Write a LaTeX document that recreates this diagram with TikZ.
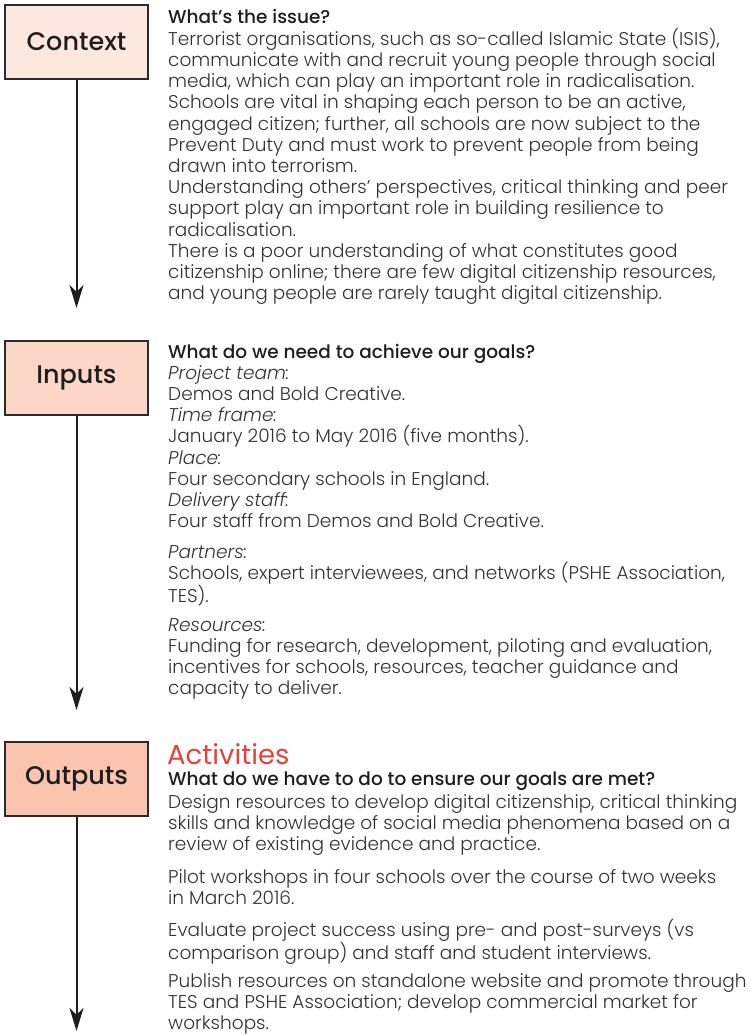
\documentclass[tikz,border=0pt]{standalone}
\usepackage{fontspec}
\setmainfont{Poppins}[UprightFont={* Light},ItalicFont={* Light Italic},BoldFont={* Medium}]
\newfontfamily\labelfont{Poppins Medium}
\newfontfamily\actfont{Poppins}
\usetikzlibrary{arrows.meta}
\definecolor{ctxfill}{HTML}{FDE8E0}
\definecolor{inpfill}{HTML}{FCD6C6}
\definecolor{outfill}{HTML}{FAC4AF}
\definecolor{boxline}{HTML}{2B2B2B}
\definecolor{bodytext}{HTML}{333333}
\definecolor{headtext}{HTML}{1E1E1E}
\definecolor{actred}{HTML}{E8413A}
\newcommand{\para}[1]{\parbox[t]{600pt}{\raggedright #1}}
\begin{document}
\begin{tikzpicture}[x=1pt,y=-1pt,
  stagebox/.style={draw=boxline,line width=1.1pt,minimum width=143pt,minimum height=74pt,inner sep=0pt,
     font=\labelfont\fontsize{25.5}{30}\selectfont,text=headtext},
  flow/.style={draw=headtext,line width=2pt,-{Stealth[length=23pt,width=14pt,inset=7pt]}},
  body/.style={anchor=base west,inner sep=0pt,text=bodytext,
     font=\fontsize{18.5}{21.2}\selectfont},
  head/.style={body,text=headtext,font=\bfseries\fontsize{18.5}{21.2}\selectfont}]
\useasboundingbox (0,0) rectangle (751,1035);
% stage boxes
\node[stagebox,fill=ctxfill] (ctx) at (76.5,42) {Context};
\node[stagebox,fill=inpfill] (inp) at (76.5,378) {Inputs};
\node[stagebox,fill=outfill] (out) at (76.5,779) {Outputs};
\coordinate (ctxend) at (76.5,308);
\coordinate (inpend) at (76.5,710);
\coordinate (outend) at (76.5,1031);
\draw[flow] (ctx.south) -- (ctxend);
\draw[flow] (inp.south) -- (inpend);
\draw[flow] (out.south) -- (outend);
% Context text
\node[head] (ctxh) at (168,24) {What’s the issue?};
\node[body] (ctxb) at (168,45.3) {\para{Terrorist organisations, such as so-called Islamic State (ISIS),\\
communicate with and recruit young people through social\\
media, which can play an important role in radicalisation.\\
Schools are vital in shaping each person to be an active,\\
engaged citizen; further, all schools are now subject to the\\
Prevent Duty and must work to prevent people from being\\
drawn into terrorism.\\
Understanding others’ perspectives, critical thinking and peer\\
support play an important role in building resilience to\\
radicalisation.\\
There is a poor understanding of what constitutes good\\
citizenship online; there are few digital citizenship resources,\\
and young people are rarely taught digital citizenship.}};
% Inputs text
\node[head] (inph) at (168,358) {What do we need to achieve our goals?};
\node[body] (inpa) at (168,379.3) {\para{\textit{Project team:}\\
Demos and Bold Creative.\\
\textit{Time frame:}\\
January 2016 to May 2016 (five months).\\
\textit{Place:}\\
Four secondary schools in England.\\
\textit{Delivery staff:}\\
Four staff from Demos and Bold Creative.}};
\node[body] (inpb) at (168,558.5) {\para{\textit{Partners:}\\
Schools, expert interviewees, and networks (PSHE Association,\\
TES).}};
\node[body] (inpc) at (168,631) {\para{\textit{Resources:}\\
Funding for research, development, piloting and evaluation,\\
incentives for schools, resources, teacher guidance and\\
capacity to deliver.}};
% Outputs text
\node[anchor=base west,inner sep=0pt,text=actred,font=\actfont\fontsize{27.5}{30}\selectfont] (acth) at (167,764.5) {Activities};
\node[head] (outh) at (168,785) {What do we have to do to ensure our goals are met?};
\node[body] (outa) at (168,808.5) {\para{Design resources to develop digital citizenship, critical thinking\\
skills and knowledge of social media phenomena based on a\\
review of existing evidence and practice.}};
\node[body] (outb) at (168,883) {\para{Pilot workshops in four schools over the course of two weeks\\
in March 2016.}};
\node[body] (outc) at (168,936) {\para{Evaluate project success using pre- and post-surveys (vs\\
comparison group) and staff and student interviews.}};
\node[body] (outd) at (168,987.5) {\para{Publish resources on standalone website and promote through\\
TES and PSHE Association; develop commercial market for\\
workshops.}};
\end{tikzpicture}
\end{document}
